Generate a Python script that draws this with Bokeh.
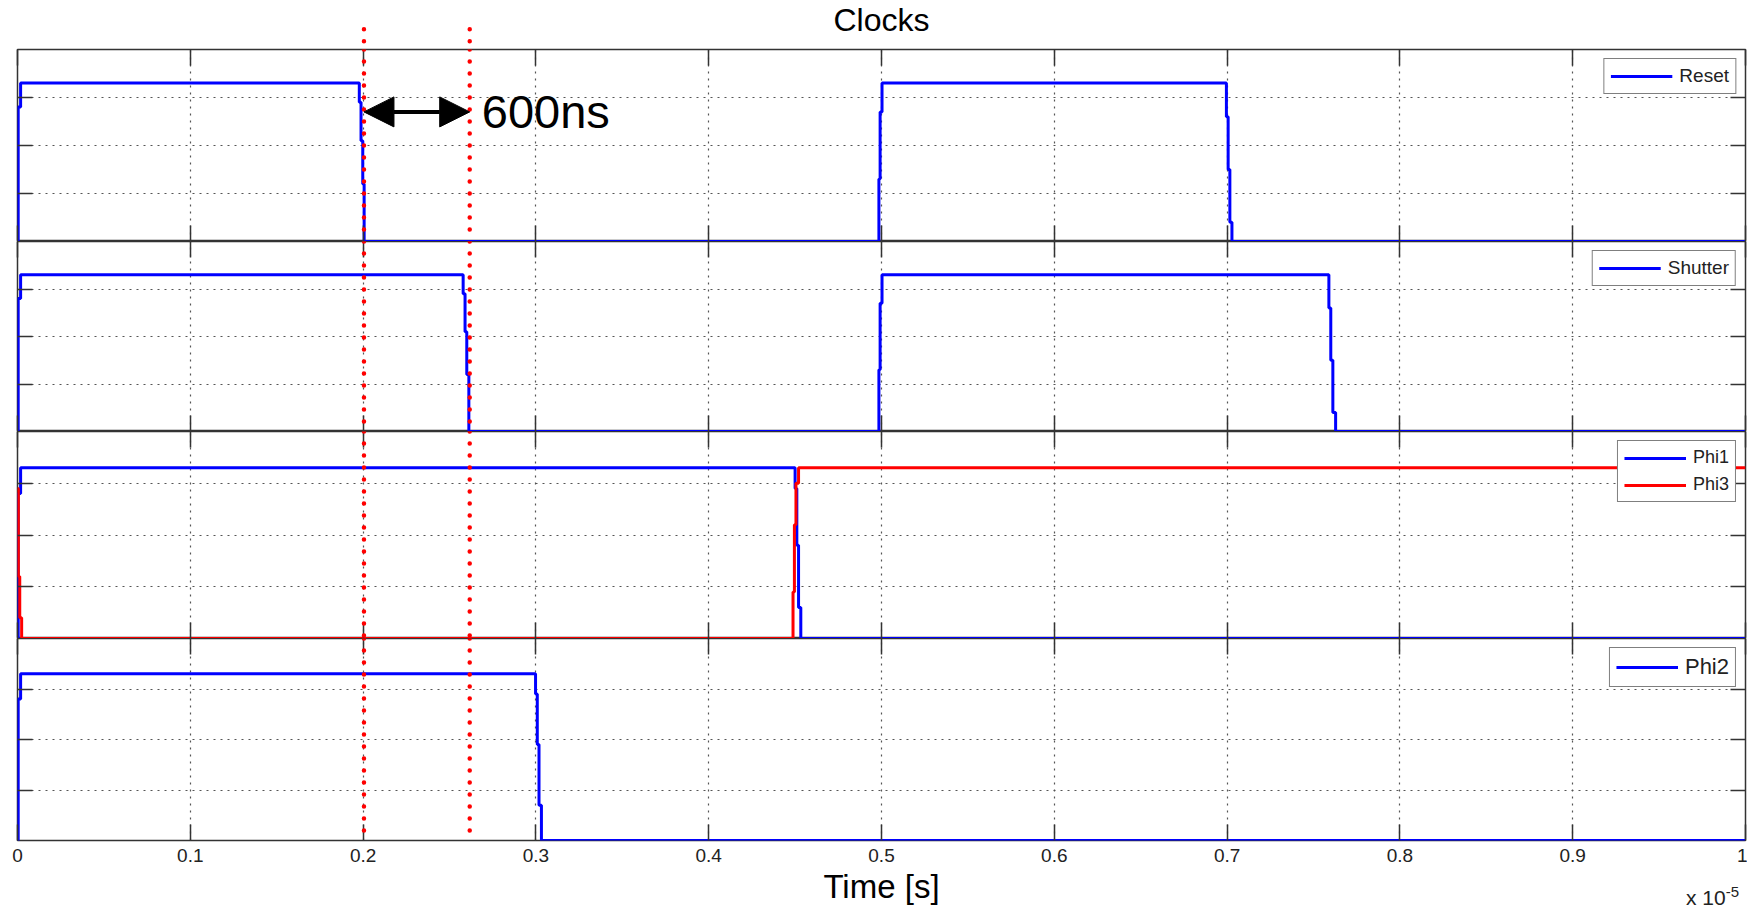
from bokeh.plotting import figure
from bokeh.models import Range1d, LinearAxis, FixedTicker, Span, Arrow, NormalHead, Label, Div
from bokeh.layouts import column
from bokeh.embed import file_html
from bokeh.resources import INLINE

# ---------------- data (time in units of 1e-5 s, voltage in V) ----------------
x_ticks = [0.0, 0.1, 0.2, 0.3, 0.4, 0.5, 0.6, 0.7, 0.8, 0.9, 1.0]
x_tick_labels = ["0", "0.1", "0.2", "0.3", "0.4", "0.5", "0.6", "0.7", "0.8", "0.9", "1"]
y_ticks = [1, 2, 3]

reset_t = [0.0, 0.0004, 0.0004, 0.0018, 0.0018, 0.1978, 0.1978, 0.1988, 0.1988, 0.1998, 0.1998,
           0.2006, 0.2006, 0.4985, 0.4985, 0.4992, 0.4992, 0.5003, 0.5003, 0.6996, 0.6996,
           0.7006, 0.7006, 0.7016, 0.7016, 0.7028, 0.7028, 1.0]
reset_v = [0.0, 0.0, 2.8, 2.8, 3.3, 3.3, 2.9, 2.9, 2.1, 2.1, 1.2, 1.2, 0.0, 0.0, 1.3, 1.3, 2.7,
           2.7, 3.3, 3.3, 2.6, 2.6, 1.5, 1.5, 0.4, 0.4, 0.0, 0.0]

shutter_t = [0.0, 0.0004, 0.0004, 0.0018, 0.0018, 0.2579, 0.2579, 0.2590, 0.2590, 0.2600, 0.2600,
             0.2612, 0.2612, 0.4985, 0.4985, 0.4992, 0.4992, 0.5003, 0.5003, 0.7589, 0.7589,
             0.7600, 0.7600, 0.7612, 0.7612, 0.7628, 0.7628, 1.0]
shutter_v = [0.0, 0.0, 2.8, 2.8, 3.3, 3.3, 2.9, 2.9, 2.1, 2.1, 1.2, 1.2, 0.0, 0.0, 1.3, 1.3, 2.7,
             2.7, 3.3, 3.3, 2.6, 2.6, 1.5, 1.5, 0.4, 0.4, 0.0, 0.0]

phi1_t = [0.0, 0.0004, 0.0004, 0.0018, 0.0018, 0.4500, 0.4500, 0.4510, 0.4510, 0.4520, 0.4520,
          0.4533, 0.4533, 1.0]
phi1_v = [0.0, 0.0, 2.8, 2.8, 3.3, 3.3, 2.9, 2.9, 1.8, 1.8, 0.6, 0.6, 0.0, 0.0]

phi3_t = [0.0, 0.0005, 0.0005, 0.0013, 0.0013, 0.0024, 0.0024, 0.4488, 0.4488, 0.4496, 0.4496,
          0.4505, 0.4505, 0.4520, 0.4520, 1.0]
phi3_v = [2.9, 2.9, 1.2, 1.2, 0.4, 0.4, 0.0, 0.0, 0.9, 0.9, 2.2, 2.2, 3.0, 3.0, 3.3, 3.3]

phi2_t = [0.0, 0.0004, 0.0004, 0.0018, 0.0018, 0.2998, 0.2998, 0.3008, 0.3008, 0.3018, 0.3018,
          0.3032, 0.3032, 1.0]
phi2_v = [0.0, 0.0, 2.8, 2.8, 3.3, 3.3, 2.9, 2.9, 1.9, 1.9, 0.7, 0.7, 0.0, 0.0]

marker_t = [0.2005, 0.2617]     # red dotted cursor lines
gap_label = "600ns"
gap_level = 2.7
title_text = "Clocks"
x_label = "Time [s]"

# ---------------- styling ----------------
FONT = "Liberation Sans"
W = 1747
BLUE = "#0000FF"
RED = "#FF0000"
EDGE = "#333333"


def quiet_axis(ax, tick_len):
    ax.axis_line_color = None
    ax.major_tick_in = tick_len
    ax.major_tick_out = 0
    ax.minor_tick_line_color = None
    ax.major_tick_line_color = EDGE
    ax.major_tick_line_width = 1.5
    ax.major_label_text_color = None
    ax.major_label_text_font_size = "1px"
    ax.major_label_standoff = 0


def make_panel(height, top=0, bottom=0):
    p = figure(width=W, height=height, output_backend="svg", toolbar_location=None,
               x_range=Range1d(0, 1), y_range=Range1d(0, 4),
               x_axis_location="below", y_axis_location="left",
               min_border_left=17, min_border_right=2,
               min_border_top=top, min_border_bottom=bottom)
    p.background_fill_color = "white"
    p.border_fill_color = "white"
    p.outline_line_color = EDGE
    p.outline_line_width = 1.5
    bottom_ax = p.below[0]
    left_ax = p.left[0]
    bottom_ax.ticker = FixedTicker(ticks=x_ticks)
    left_ax.ticker = FixedTicker(ticks=y_ticks)
    p.xgrid.ticker = FixedTicker(ticks=x_ticks)
    p.ygrid.ticker = FixedTicker(ticks=y_ticks)
    for g in (p.xgrid, p.ygrid):
        g.grid_line_color = "#555555"
        g.grid_line_dash = "2 5"
        g.grid_line_width = 1.2
    top_ax = LinearAxis(ticker=FixedTicker(ticks=x_ticks))
    right_ax = LinearAxis(ticker=FixedTicker(ticks=y_ticks))
    p.add_layout(top_ax, "above")
    p.add_layout(right_ax, "right")
    for ax in (bottom_ax, top_ax):
        quiet_axis(ax, 16)
    for ax in (left_ax, right_ax):
        quiet_axis(ax, 15)
    return p, bottom_ax


def cursor_lines(p):
    for t in marker_t:
        p.add_layout(Span(location=t, dimension="height", line_color=RED, line_width=4.5,
                          line_dash="0 12", line_cap="round"))


def style_legend(p, size, spacing=4):
    lg = p.legend[0]
    lg.location = "top_right"
    lg.margin = 9
    lg.padding = 6
    lg.spacing = spacing
    lg.glyph_width = 62
    lg.glyph_height = 18
    lg.label_standoff = 7
    lg.label_text_font = FONT
    lg.label_text_font_size = size
    lg.label_text_color = "#222222"
    lg.border_line_color = "black"
    lg.border_line_width = 1.2
    lg.background_fill_color = "white"
    lg.background_fill_alpha = 1.0


# Header strip: title and the upper ends of the cursor lines
p0 = figure(width=W, height=48, output_backend="svg", toolbar_location=None,
            x_range=Range1d(0, 1), y_range=Range1d(4.0, 4.0 + 48 / 47.9),
            x_axis_location=None, y_axis_location=None,
            min_border_left=17, min_border_right=2, min_border_top=0, min_border_bottom=0)
p0.outline_line_color = None
p0.background_fill_color = "white"
p0.border_fill_color = "white"
p0.xgrid.visible = False
p0.ygrid.visible = False
for r in list(p0.center):
    r.visible = False
p0.segment(x0=marker_t, x1=marker_t, y0=[3.9] * len(marker_t), y1=[4.59] * len(marker_t),
           line_color=RED, line_width=4.5, line_dash="0 12", line_cap="round")
p0.add_layout(Label(x=0.5, y=4.0 + 48 / 47.9 - 19.5 / 47.9, text=title_text, text_font=FONT,
                    text_font_size="32px", text_align="center", text_baseline="middle",
                    text_color="black"))

# Panel 1: Reset
p1, _ = make_panel(193, top=1)
p1.line(reset_t, reset_v, line_color=BLUE, line_width=3, legend_label="Reset")
style_legend(p1, "19px")
cursor_lines(p1)
p1.add_layout(Arrow(x_start=marker_t[0], x_end=marker_t[1], y_start=gap_level, y_end=gap_level,
                    line_color="black", line_width=4,
                    start=NormalHead(size=30, fill_color="black", line_color="black"),
                    end=NormalHead(size=30, fill_color="black", line_color="black")))
p1.add_layout(Label(x=marker_t[1] + 0.007, y=gap_level, text=gap_label, text_font=FONT,
                    text_font_size="47px", text_baseline="middle", text_color="black"))

# Panel 2: Shutter
p2, _ = make_panel(190)
p2.line(shutter_t, shutter_v, line_color=BLUE, line_width=3, legend_label="Shutter")
style_legend(p2, "19px")
cursor_lines(p2)

# Panel 3: Phi1 / Phi3
p3, _ = make_panel(207)
p3.line(phi1_t, phi1_v, line_color=BLUE, line_width=3, legend_label="Phi1")
p3.line(phi3_t, phi3_v, line_color=RED, line_width=3, legend_label="Phi3")
style_legend(p3, "18px", spacing=6)
cursor_lines(p3)

# Panel 4: Phi2
p4, bx = make_panel(270, bottom=68)
p4.line(phi2_t, phi2_v, line_color=BLUE, line_width=3, legend_label="Phi2")
style_legend(p4, "22px")
cursor_lines(p4)
bx.major_label_overrides = {t: lab for t, lab in zip(x_ticks, x_tick_labels)}
bx.major_label_text_font = FONT
bx.major_label_text_font_size = "19px"
bx.major_label_text_color = "#222222"
bx.major_label_standoff = 8
bx.axis_label = x_label
bx.axis_label_text_font = FONT
bx.axis_label_text_font_size = "33px"
bx.axis_label_text_font_style = "normal"
bx.axis_label_text_color = "black"
bx.axis_label_standoff = 3

scale_note = Div(text="x 10<sup style='font-size:15px'>-5</sup>", width=64, height=26,
                 margin=(-27, 0, 0, 1686),
                 styles={"font-family": FONT, "font-size": "21px", "color": "#222222",
                         "white-space": "nowrap"})

layout = column(p0, p1, p2, p3, p4, scale_note, spacing=0)
open("out.html", "w").write(file_html(layout, INLINE))
